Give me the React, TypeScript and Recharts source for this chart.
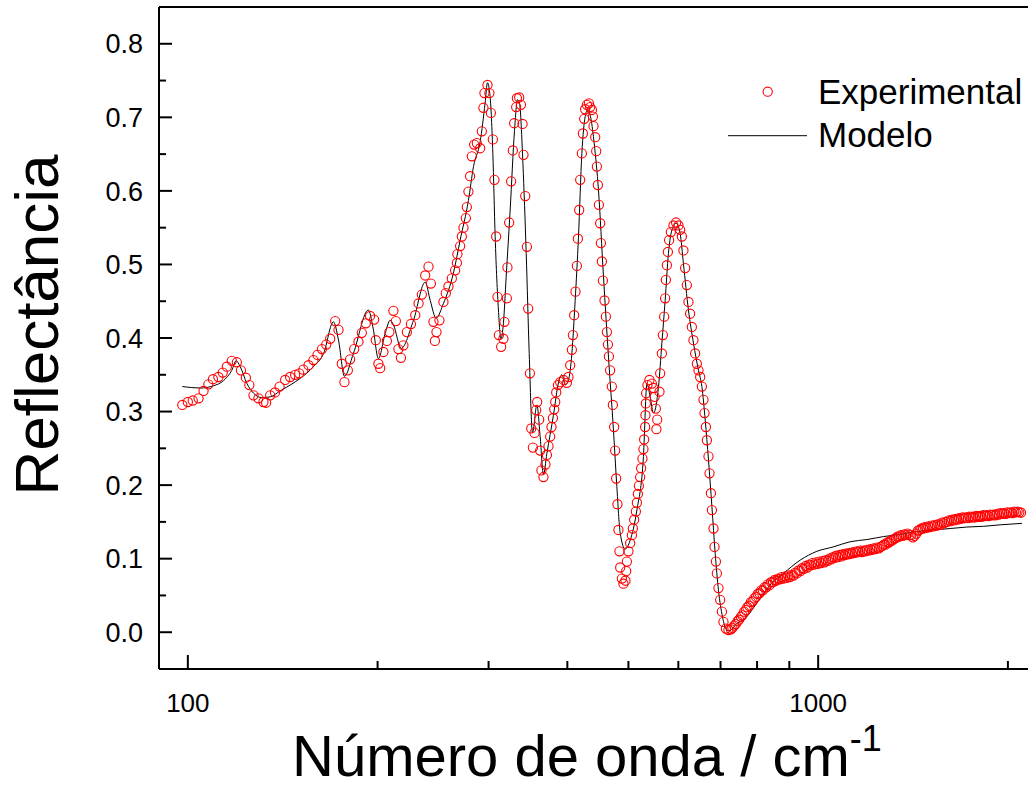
import { ComposedChart, Line, ReferenceLine, Scatter, XAxis, YAxis } from 'recharts'

const FONT = '"Liberation Sans", Arial, Helvetica, sans-serif'

const seriesNames = ['Experimental', 'Modelo']
const xTitle = 'Número de onda / cm'
const xTitleSup = '-1'
const yTitle = 'Reflectância'

const xMajorTicks = [100, 1000]
const xMinorTicks = [200, 300, 400, 500, 600, 700, 800, 900, 2000]
const yTickLabels = ['0.0', '0.1', '0.2', '0.3', '0.4', '0.5', '0.6', '0.7', '0.8']
const yMinorTicks = [0.05, 0.15, 0.25, 0.35, 0.45, 0.55, 0.65, 0.75]

// [número de onda (cm-1), reflectância]
const experimental: [number, number][] = [
    [98.0, 0.309], [100.0, 0.313], [101.8, 0.315], [104.0, 0.318], [105.9, 0.328],
    [107.8, 0.337], [109.6, 0.344], [111.8, 0.347], [113.6, 0.353], [115.3, 0.361],
    [117.4, 0.369], [119.6, 0.367], [121.4, 0.356], [123.6, 0.346], [125.2, 0.336],
    [127.1, 0.322], [129.4, 0.318], [131.8, 0.313], [133.1, 0.312], [135.1, 0.322],
    [137.5, 0.326], [139.8, 0.334], [142.7, 0.343], [145.3, 0.347], [148.0, 0.35],
    [150.2, 0.352], [152.5, 0.357], [155.4, 0.363], [158.2, 0.37], [160.6, 0.377],
    [163.2, 0.385], [165.8, 0.391], [168.2, 0.399], [171.3, 0.423], [173.4, 0.411],
    [175.5, 0.365], [177.2, 0.34], [179.4, 0.356], [180.9, 0.371], [183.6, 0.385],
    [186.5, 0.395], [188.8, 0.407], [191.6, 0.42], [194.6, 0.43], [197.5, 0.425],
    [198.7, 0.397], [200.6, 0.365], [201.9, 0.359], [204.3, 0.381], [206.9, 0.396],
    [208.8, 0.408], [211.9, 0.437], [213.8, 0.423], [215.8, 0.385], [217.8, 0.373],
    [219.8, 0.39], [222.6, 0.408], [225.9, 0.419], [229.5, 0.431], [232.3, 0.447],
    [235.1, 0.459], [238.0, 0.485], [240.9, 0.497], [243.0, 0.474], [245.3, 0.422],
    [246.6, 0.396], [248.0, 0.408], [250.7, 0.424], [254.4, 0.449], [256.6, 0.461],
    [259.1, 0.47], [262.3, 0.481], [265.5, 0.492], [267.2, 0.502], [267.7, 0.514],
    [270.4, 0.525], [272.1, 0.538], [273.7, 0.55], [276.1, 0.563], [277.1, 0.578],
    [278.7, 0.599], [280.4, 0.62], [282.2, 0.647], [284.6, 0.663], [287.4, 0.665],
    [290.9, 0.658], [292.7, 0.681], [294.4, 0.713], [295.5, 0.733], [298.8, 0.744],
    [300.9, 0.733], [302.5, 0.706], [304.7, 0.67], [306.5, 0.615], [308.4, 0.538],
    [309.9, 0.456], [311.5, 0.404], [314.1, 0.388], [316.7, 0.399], [317.9, 0.422],
    [320.7, 0.454], [321.4, 0.496], [323.4, 0.557], [325.8, 0.613], [327.8, 0.655],
    [329.4, 0.692], [331.8, 0.714], [332.7, 0.726], [335.5, 0.727], [337.6, 0.717],
    [339.6, 0.691], [340.8, 0.649], [343.0, 0.593], [345.1, 0.524], [346.7, 0.44],
    [348.9, 0.352], [350.6, 0.277], [352.7, 0.251], [354.8, 0.271], [357.0, 0.302],
    [358.3, 0.313], [360.9, 0.289], [362.2, 0.247], [363.9, 0.22], [366.6, 0.211],
    [369.3, 0.228], [371.2, 0.241], [373.4, 0.253], [375.7, 0.266], [377.5, 0.279],
    [379.5, 0.291], [381.3, 0.303], [382.7, 0.313], [384.1, 0.326], [386.5, 0.336],
    [389.7, 0.34], [394.5, 0.343], [399.3, 0.339], [401.7, 0.347], [404.2, 0.363],
    [406.7, 0.384], [408.2, 0.404], [410.1, 0.431], [412.1, 0.463], [414.2, 0.498],
    [415.7, 0.535], [417.7, 0.574], [419.2, 0.615], [421.8, 0.651], [423.4, 0.678],
    [425.4, 0.698], [426.9, 0.711], [429.6, 0.717], [432.8, 0.719], [434.8, 0.714],
    [437.6, 0.71], [439.2, 0.701], [440.1, 0.688], [442.9, 0.673], [444.5, 0.654],
    [445.6, 0.633], [447.2, 0.608], [448.9, 0.581], [451.0, 0.556], [452.2, 0.529],
    [453.8, 0.504], [455.5, 0.478], [458.2, 0.451], [460.5, 0.429], [462.2, 0.408],
    [463.9, 0.391], [465.6, 0.375], [467.7, 0.356], [470.6, 0.334], [472.4, 0.309],
    [474.6, 0.279], [476.4, 0.247], [478.1, 0.209], [480.4, 0.174], [482.1, 0.139],
    [483.9, 0.11], [485.2, 0.088], [488.2, 0.073], [491.0, 0.066], [494.6, 0.07],
    [495.9, 0.083], [497.2, 0.096], [500.1, 0.11], [503.2, 0.121], [506.4, 0.132],
    [508.2, 0.141], [510.6, 0.153], [513.8, 0.164], [515.7, 0.176], [517.6, 0.188],
    [519.5, 0.199], [521.9, 0.211], [523.8, 0.223], [526.3, 0.236], [528.2, 0.249],
    [529.6, 0.262], [531.5, 0.279], [532.1, 0.295], [532.9, 0.311], [533.5, 0.325],
    [536.0, 0.336], [539.9, 0.343], [544.7, 0.338], [547.9, 0.332], [550.3, 0.32],
    [552.7, 0.304], [553.8, 0.276], [555.5, 0.289], [560.1, 0.327], [561.5, 0.352],
    [565.0, 0.379], [567.1, 0.404], [569.8, 0.429], [571.8, 0.454], [573.3, 0.479],
    [575.4, 0.499], [577.5, 0.517], [580.2, 0.533], [583.8, 0.544], [589.4, 0.553],
    [595.2, 0.557], [600.3, 0.553], [604.0, 0.547], [607.8, 0.538], [611.3, 0.519],
    [615.1, 0.495], [618.9, 0.472], [622.6, 0.449], [626.4, 0.433], [630.4, 0.415],
    [634.1, 0.397], [638.0, 0.379], [642.0, 0.365], [645.8, 0.356], [649.8, 0.347],
    [653.9, 0.334], [657.8, 0.316], [660.2, 0.298], [663.6, 0.279], [666.0, 0.261],
    [669.9, 0.239], [672.4, 0.216], [675.8, 0.189], [678.3, 0.166], [682.3, 0.141],
    [684.8, 0.116], [688.3, 0.096], [690.7, 0.08], [694.8, 0.06], [699.1, 0.044],
    [703.5, 0.028], [707.6, 0.014], [713.8, 0.005], [720.6, 0.003],
    [727, 0.004], [731, 0.006], [736, 0.009], [740, 0.011], [745, 0.015],
    [749, 0.017], [754, 0.021], [758, 0.023], [763, 0.028], [768, 0.03],
    [772, 0.034], [777, 0.036], [782, 0.041], [787, 0.042], [792, 0.046],
    [797, 0.048], [802, 0.052], [807, 0.053], [812, 0.057], [817, 0.057],
    [822, 0.061], [827, 0.061], [832, 0.065], [837, 0.064], [842, 0.068],
    [848, 0.068], [853, 0.071], [858, 0.07], [864, 0.073], [869, 0.072],
    [875, 0.075], [880, 0.073], [886, 0.076], [891, 0.074], [897, 0.077],
    [902, 0.075], [908, 0.078], [914, 0.077], [920, 0.081], [925, 0.08],
    [931, 0.084], [937, 0.083], [943, 0.087], [949, 0.086], [955, 0.09],
    [961, 0.088], [967, 0.092], [973, 0.091], [979, 0.094], [985, 0.092],
    [992, 0.095], [998, 0.093], [1004, 0.096], [1010, 0.094], [1017, 0.097],
    [1023, 0.095], [1029, 0.098], [1036, 0.097], [1042, 0.1], [1049, 0.099],
    [1055, 0.102], [1062, 0.101], [1068, 0.104], [1075, 0.102], [1082, 0.105],
    [1089, 0.103], [1095, 0.106], [1102, 0.105], [1109, 0.107], [1116, 0.106],
    [1123, 0.108], [1130, 0.107], [1137, 0.109], [1144, 0.108], [1151, 0.11],
    [1158, 0.109], [1166, 0.111], [1173, 0.109], [1180, 0.111], [1187, 0.11],
    [1195, 0.112], [1202, 0.111], [1210, 0.113], [1217, 0.112], [1225, 0.114],
    [1232, 0.113], [1240, 0.115], [1248, 0.114], [1256, 0.116], [1263, 0.117],
    [1271, 0.119], [1279, 0.119], [1287, 0.122], [1295, 0.122], [1303, 0.124],
    [1311, 0.125], [1320, 0.127], [1328, 0.128], [1336, 0.13], [1344, 0.13],
    [1353, 0.132], [1361, 0.131], [1370, 0.133], [1378, 0.132], [1387, 0.134],
    [1396, 0.132], [1404, 0.132], [1413, 0.129], [1422, 0.131], [1431, 0.134],
    [1440, 0.138], [1449, 0.139], [1458, 0.141], [1467, 0.141], [1476, 0.143],
    [1486, 0.142], [1495, 0.144], [1504, 0.143], [1514, 0.145], [1523, 0.144],
    [1533, 0.146], [1543, 0.145], [1552, 0.147], [1562, 0.146], [1572, 0.149],
    [1582, 0.148], [1592, 0.15], [1602, 0.15], [1612, 0.152], [1622, 0.151],
    [1632, 0.153], [1643, 0.152], [1653, 0.154], [1663, 0.153], [1674, 0.155],
    [1684, 0.154], [1695, 0.156], [1706, 0.155], [1716, 0.156], [1727, 0.155],
    [1738, 0.157], [1749, 0.156], [1760, 0.157], [1771, 0.156], [1782, 0.158],
    [1794, 0.157], [1805, 0.158], [1816, 0.157], [1828, 0.159], [1839, 0.158],
    [1851, 0.159], [1863, 0.158], [1874, 0.16], [1886, 0.159], [1898, 0.16],
    [1910, 0.159], [1922, 0.161], [1934, 0.16], [1946, 0.162], [1959, 0.161],
    [1971, 0.162], [1983, 0.161], [1996, 0.163], [2008, 0.162], [2021, 0.163],
    [2034, 0.162], [2047, 0.164], [2059, 0.163], [2072, 0.164], [2085, 0.163],
    [2098, 0.1625],
]

const model: [number, number][] = [
    [98.0, 0.334], [104.6, 0.332], [109.8, 0.335], [113.9, 0.342], [117.4, 0.356],
    [119.3, 0.369], [121.1, 0.361], [124.1, 0.338], [127.1, 0.325], [131.0, 0.319],
    [135.1, 0.32], [140.1, 0.328], [145.3, 0.336], [150.7, 0.345], [158.2, 0.361],
    [164.2, 0.379], [170.2, 0.422], [173.4, 0.397], [177.2, 0.348], [183.1, 0.379],
    [193.4, 0.438], [196.6, 0.415], [200.6, 0.372], [205.6, 0.406], [209.4, 0.424],
    [211.9, 0.418], [218.0, 0.386], [228.0, 0.424], [238.0, 0.476], [242.4, 0.451],
    [247.7, 0.427], [254.4, 0.447], [263.8, 0.488], [270.4, 0.533], [278.7, 0.587],
    [283.9, 0.633], [290.9, 0.667], [296.2, 0.719], [298.8, 0.747], [301.7, 0.728],
    [304.7, 0.651], [307.3, 0.538], [311.0, 0.438], [313.8, 0.399], [316.7, 0.42],
    [319.9, 0.483], [324.6, 0.574], [329.8, 0.682], [333.4, 0.724], [335.9, 0.719],
    [340.1, 0.637], [344.2, 0.515], [348.0, 0.379], [352.2, 0.271], [357.9, 0.309],
    [362.2, 0.266], [366.6, 0.214], [371.2, 0.243], [380.2, 0.295], [387.4, 0.34],
    [392.2, 0.35], [397.0, 0.336], [401.7, 0.343], [406.7, 0.379], [411.6, 0.451],
    [416.6, 0.537], [421.8, 0.651], [426.9, 0.701], [430.5, 0.71], [436.0, 0.698],
    [441.3, 0.664], [448.2, 0.601], [456.5, 0.483], [464.9, 0.374], [473.4, 0.275],
    [479.3, 0.198], [485.2, 0.135], [494.1, 0.113], [503.2, 0.125], [515.7, 0.166],
    [528.2, 0.239], [535.0, 0.338], [541.3, 0.32], [547.9, 0.298], [558.1, 0.334],
    [565.0, 0.393], [571.8, 0.451], [578.7, 0.515], [587.2, 0.549], [595.2, 0.556],
    [604.0, 0.542], [611.3, 0.501], [622.6, 0.438], [634.1, 0.393], [645.8, 0.356],
    [653.9, 0.334], [662.0, 0.288], [669.9, 0.234], [678.3, 0.171], [686.5, 0.107],
    [694.8, 0.057], [705.0, 0.021], [716.4, 0.003], [723.2, 0.002], [743.0, 0.012],
    [761.4, 0.017], [809.1, 0.046], [844, 0.067], [880.8, 0.08], [936.4, 0.098],
    [995.3, 0.11], [1057, 0.116], [1124, 0.123], [1195, 0.126], [1269, 0.13],
    [1349, 0.133], [1434, 0.137], [1524, 0.139], [1620, 0.141], [1722, 0.143],
    [1830, 0.144], [1944, 0.146], [2105, 0.148],
]

const expData = experimental.map(([w, r]) => ({ w, r }))
const modelData = model.map(([w, r]) => ({ w, r }))
const xTicks = [...xMajorTicks, ...xMinorTicks].sort((a, b) => a - b)
const yTicks = [...yTickLabels.map(Number), ...yMinorTicks].sort((a, b) => a - b)

function XTick({ x, y, payload }: any) {
    const major = xMajorTicks.includes(payload.value)
    return (
        <g>
            <line x1={x} x2={x} y1={y} y2={y - (major ? 14 : 8)} stroke="#000" strokeWidth={2} />
            {major && (
                <text x={x} y={y + 43} textAnchor="middle" fontSize={26} fontFamily={FONT} fill="#000">
                    {payload.value}
                </text>
            )}
        </g>
    )
}

function YTick({ x, y, payload }: any) {
    const label = yTickLabels.find((l) => Math.abs(Number(l) - payload.value) < 1e-6)
    return (
        <g>
            <line x1={x} x2={x + (label ? 13 : 7)} y1={y} y2={y} stroke="#000" strokeWidth={2} />
            {label && (
                <text x={x - 16} y={y} dy="0.36em" textAnchor="end" fontSize={27} fontFamily={FONT} fill="#000">
                    {label}
                </text>
            )}
        </g>
    )
}

function RingDot({ cx, cy }: any) {
    return <circle cx={cx} cy={cy} r={4.6} fill="none" stroke="#ff0000" strokeWidth={1.1} />
}

export default function App() {
    return (
        <div style={{ position: 'absolute', left: 0, top: 0, width: 1028, height: 787, overflow: 'hidden', background: '#fff' }}>
            <ComposedChart width={1060} height={787} margin={{ top: 7, right: 26, bottom: 0, left: 0 }}>
                <XAxis
                    dataKey="w"
                    type="number"
                    scale="log"
                    domain={[90, 2200]}
                    allowDataOverflow
                    ticks={xTicks}
                    interval={0}
                    tick={<XTick />}
                    tickLine={false}
                    tickSize={0}
                    tickMargin={0}
                    height={118}
                    axisLine={{ stroke: '#000', strokeWidth: 2 }}
                />
                <YAxis
                    type="number"
                    domain={[-0.05, 0.85]}
                    allowDataOverflow
                    ticks={yTicks}
                    interval={0}
                    tick={<YTick />}
                    tickLine={false}
                    tickSize={0}
                    tickMargin={0}
                    width={159}
                    axisLine={{ stroke: '#000', strokeWidth: 2 }}
                />
                <ReferenceLine y={0.85} stroke="#000" strokeWidth={2} />
                <Line
                    data={modelData}
                    dataKey="r"
                    name={seriesNames[1]}
                    type="monotone"
                    stroke="#000"
                    strokeWidth={1}
                    dot={false}
                    activeDot={false}
                    isAnimationActive={false}
                />
                <Scatter
                    data={expData}
                    dataKey="r"
                    name={seriesNames[0]}
                    shape={<RingDot />}
                    isAnimationActive={false}
                />
            </ComposedChart>
            <svg
                width={1028}
                height={787}
                style={{ position: 'absolute', left: 0, top: 0, pointerEvents: 'none' }}
                fontFamily={FONT}
            >
                <text x={58} y={325} transform="rotate(-90 58 325)" textAnchor="middle" fontSize={62} fill="#000">
                    {yTitle}
                </text>
                <text x={292} y={776} fontSize={58} fill="#000">
                    {xTitle}
                    <tspan fontSize={36} dy={-25}>{xTitleSup}</tspan>
                </text>
                <circle cx={767.7} cy={91.7} r={4.6} fill="none" stroke="#ff0000" strokeWidth={1.1} />
                <text x={818} y={104} fontSize={35} fill="#000">{seriesNames[0]}</text>
                <line x1={728} x2={807} y1={135.7} y2={135.7} stroke="#000" strokeWidth={1} />
                <text x={818} y={147} fontSize={35} fill="#000">{seriesNames[1]}</text>
            </svg>
        </div>
    )
}
